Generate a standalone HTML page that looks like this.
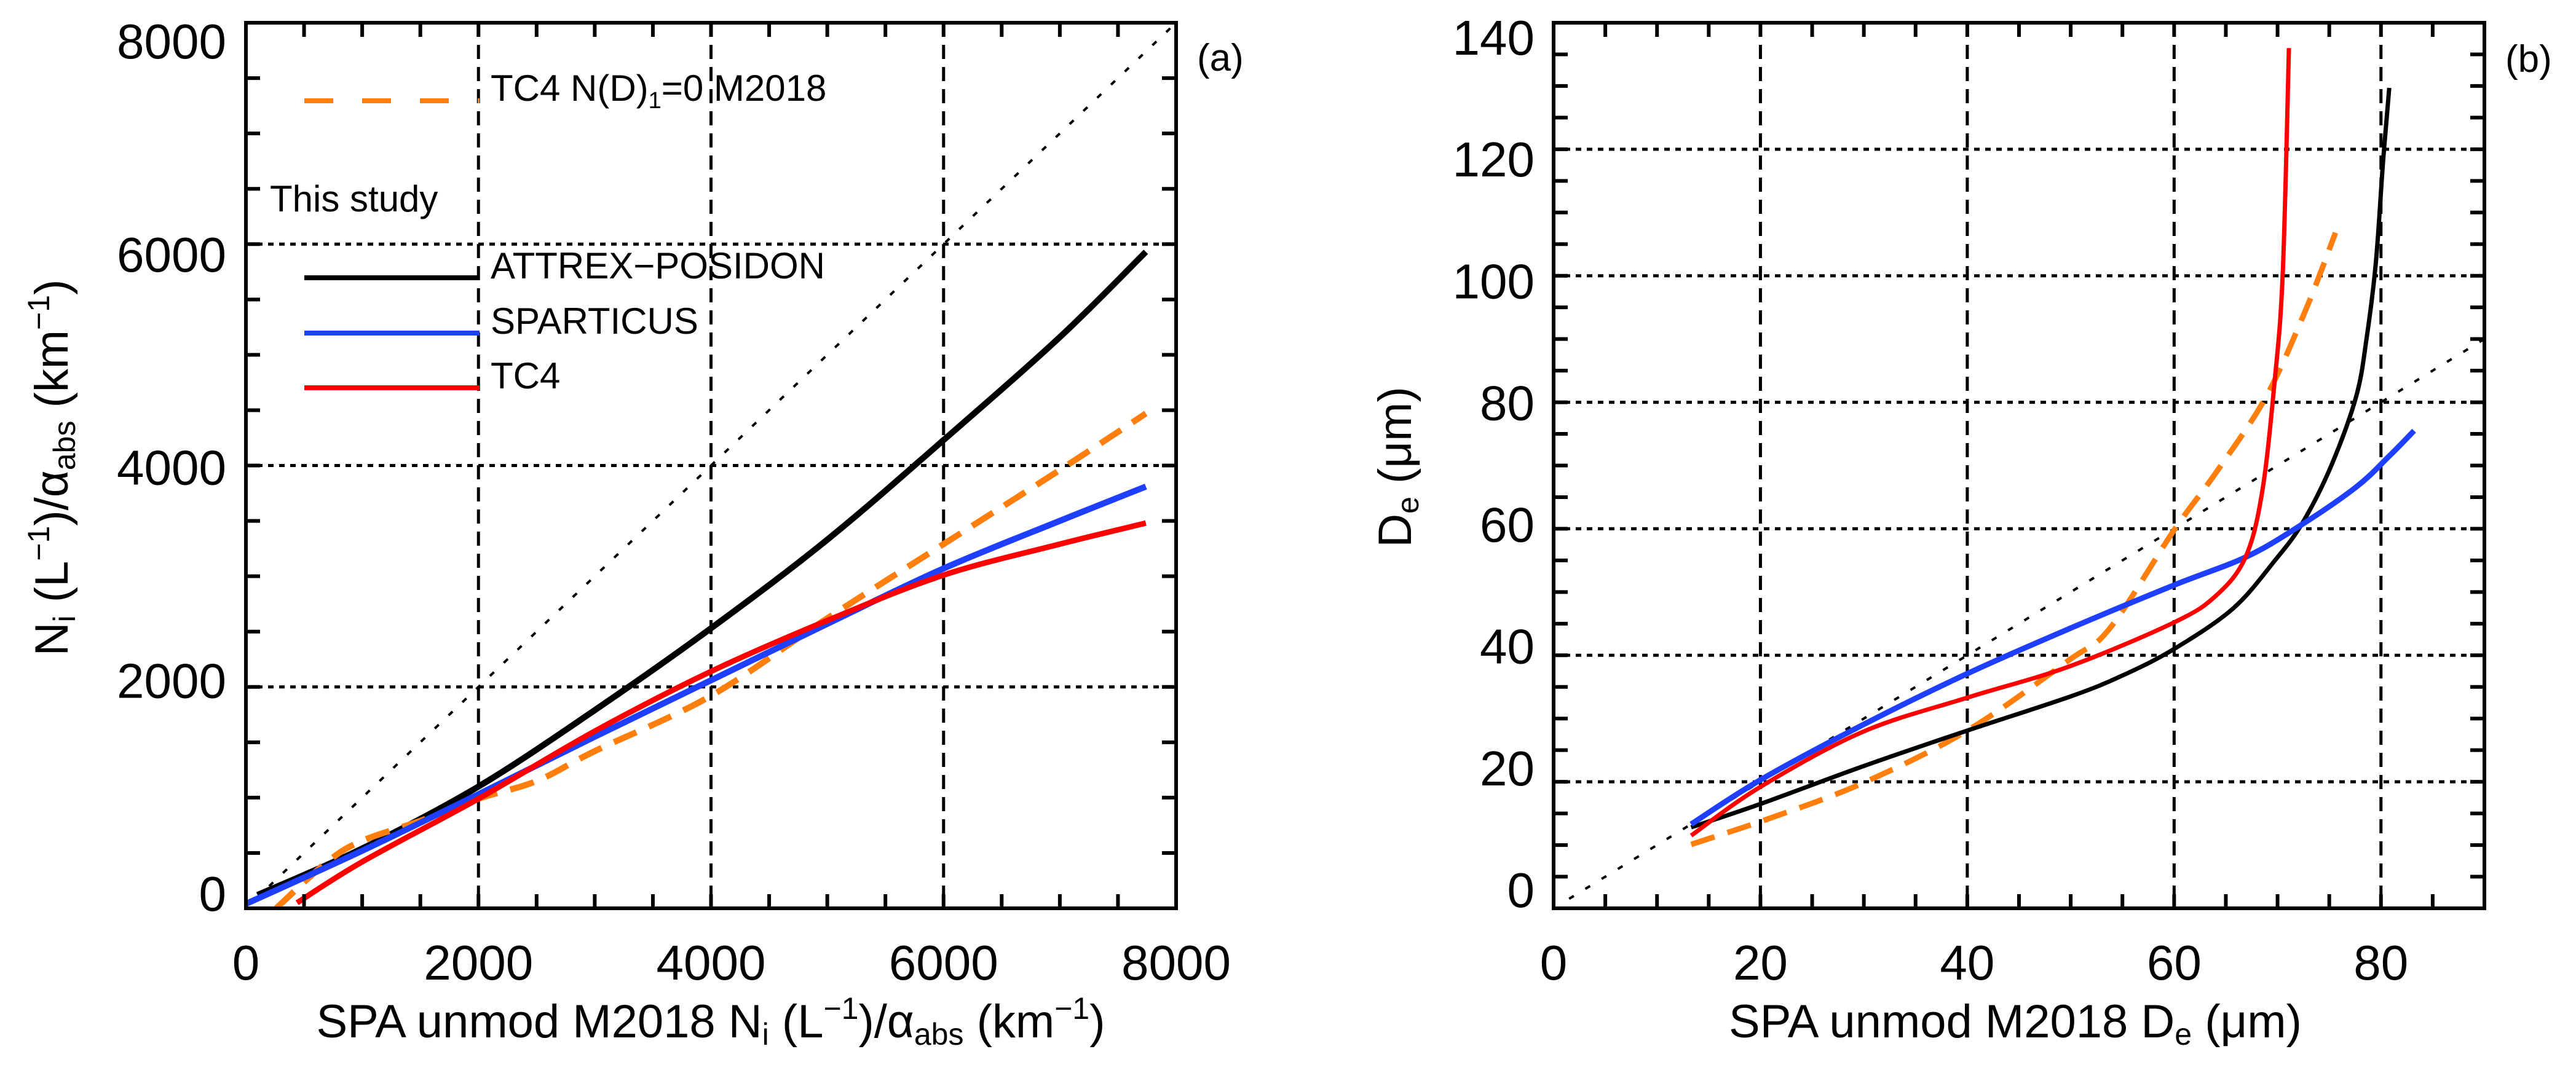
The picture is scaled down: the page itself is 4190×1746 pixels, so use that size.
<!DOCTYPE html>
<html><head><meta charset="utf-8">
<style>
html,body{margin:0;padding:0;background:#fff;}
svg{display:block;font-family:"Liberation Sans",sans-serif;}
</style></head>
<body>
<svg id="chart" width="4190" height="1746" viewBox="0 0 4190 1746" xmlns="http://www.w3.org/2000/svg">
<rect width="4190" height="1746" fill="#fff"/>
<g id="pa"></g>
<g id="pb"></g>
</svg>
<script>
// ---------- Panel (a) data ----------
const aBlackX=[100,1000,2000,3000,4000,5000,6000,7000,7740];
const aBlackY=[120,540,1100,1790,2530,3330,4230,5160,5930];
const aBlueX=[0,1000,2000,3000,4000,5000,6000,7000,7740];
const aBlueY=[40,520,1030,1550,2060,2570,3070,3500,3810];
const aRedX=[440,1000,2000,3000,4000,5000,6000,7000,7740];
const aRedY=[50,420,990,1600,2140,2600,3010,3290,3480];
const aOrangeX=[260,700,1000,1500,2000,2500,3000,4000,5000,6000,7000,7740];
const aOrangeY=[0,420,610,790,990,1150,1420,1920,2620,3290,3960,4470];
const aTicks=[0,2000,4000,6000,8000];
const aGrid=[2000,4000,6000];
// ---------- Panel (b) data ----------
const bBlackX=[13.3,20,30,40,50,55,60,65.7,69.7,72.4,75.2,77.6,78.6,79.5,80.2,80.8];
const bBlackY=[12.8,16.5,22.5,28.1,33.5,36.8,41,47.4,54.9,60.9,70,80.9,90,102,118,129.7];
const bRedX=[13.3,20,29.9,40,49.8,60,64.1,66.9,68.5,69.7,70.5,71.1];
const bRedY=[11.5,19.2,27.9,33.3,38.2,45.2,49.5,55.5,65.7,83,100.3,136];
const bBlueX=[13.3,20,29.9,40,50,60,66.9,72,77.6,80.8,83.2];
const bBlueY=[13.3,20.3,29,37.1,44.3,51.1,55.5,60.3,66.6,71.5,75.5];
const bOrangeX=[13.3,21.2,29.9,40,49.8,53.8,60,64.1,68.9,72.8,75.6];
const bOrangeY=[10.1,14.4,19.8,28.1,39.2,44.3,59.8,69,80.9,94.9,106.8];
const bXTicks=[0,20,40,60,80];
const bYTicks=[0,20,40,60,80,100,120,140];
const bXGrid=[20,40,60,80];
const bYGrid=[20,40,60,80,100,120];

const NS="http://www.w3.org/2000/svg";
function mk(parent,tag,attrs){const e=document.createElementNS(NS,tag);for(const k in attrs)e.setAttribute(k,attrs[k]);parent.appendChild(e);return e;}
function smooth(pts){let d="M"+pts[0][0]+","+pts[0][1];
 for(let i=0;i<pts.length-1;i++){const p0=pts[i-1]||pts[i],p1=pts[i],p2=pts[i+1],p3=pts[i+2]||p2;
  const c1=[p1[0]+(p2[0]-p0[0])/6,p1[1]+(p2[1]-p0[1])/6],c2=[p2[0]-(p3[0]-p1[0])/6,p2[1]-(p3[1]-p1[1])/6];
  d+=" C"+c1[0]+","+c1[1]+" "+c2[0]+","+c2[1]+" "+p2[0]+","+p2[1];}return d;}

function panel(g,o){
 const X=v=>o.x0+(v-o.xmin)/(o.xmax-o.xmin)*(o.x1-o.x0);
 const Y=v=>o.y0-(v-o.ymin)/(o.ymax-o.ymin)*(o.y0-o.y1);
 o.xGrid.forEach(v=>{const l=mk(g,"line",{x1:X(v),x2:X(v),y1:o.y1,y2:o.y0,stroke:"#000","stroke-width":5,"stroke-dasharray":"23 13"});
  
  });
 o.yGrid.forEach(v=>{const l=mk(g,"line",{x1:o.x0,x2:o.x1,y1:Y(v),y2:Y(v),stroke:"#000","stroke-width":5,"stroke-dasharray":"9 9"});
  
  });
 const one=mk(g,"line",{x1:X(o.oneFrom),y1:Y(o.oneFrom),x2:X(o.oneTo),y2:Y(o.oneTo),stroke:"#000","stroke-width":4,"stroke-dasharray":"9 22"});
 
 
 o.series.forEach(s=>{const pts=s.x.map((v,i)=>[X(v),Y(s.y[i])]);
  const p=mk(g,"path",{d:smooth(pts),fill:"none",stroke:s.c,"stroke-width":s.w,"stroke-linecap":"butt"});
  if(s.dash)p.setAttribute("stroke-dasharray",s.dash);
  
  });
 for(let v=o.xmin;v<=o.xmax+1e-9;v+=o.xMinor){[[o.y0,o.y0-23],[o.y1,o.y1+23]].forEach(a=>{const t=mk(g,"line",{x1:X(v),x2:X(v),y1:a[0],y2:a[1],stroke:"#000","stroke-width":6});
  
  });}
 for(let v=o.ymin;v<=o.ymax+1e-9;v+=o.yMinor){[[o.x0,o.x0+23],[o.x1,o.x1-23]].forEach(a=>{const t=mk(g,"line",{x1:a[0],x2:a[1],y1:Y(v),y2:Y(v),stroke:"#000","stroke-width":6});
  
  });}
 const fr=mk(g,"rect",{x:o.x0,y:o.y1,width:o.x1-o.x0,height:o.y0-o.y1,fill:"none",stroke:"#000","stroke-width":6});
 
 
 o.xTicks.forEach(v=>{const t=mk(g,"text",{x:X(v),y:1594,"font-size":80,"text-anchor":"middle"});t.textContent=String(v);
  
  });
 o.yTicks.forEach(v=>{const yy=Y(v);const t=mk(g,"text",{x:o.labRight,y:o.bTop+(yy-o.y1)*(o.bBot-o.bTop)/(o.y0-o.y1),"font-size":80,"text-anchor":"end"});t.textContent=String(v);
  
  });
}

const pa=document.getElementById("pa"), pb=document.getElementById("pb");
panel(pa,{x0:400,x1:1913,y0:1478,y1:37,xmin:0,xmax:8000,ymin:0,ymax:8000,xMinor:500,yMinor:500,
 xGrid:aGrid,yGrid:aGrid,xTicks:aTicks,yTicks:aTicks,oneFrom:200,oneTo:8000,labRight:368,bTop:95,bBot:1482,
 series:[{x:aBlackX,y:aBlackY,c:"#000",w:10,name:"attrex-posidon-curve"},
  {x:aOrangeX,y:aOrangeY,c:"#ff7f0e",w:10,dash:"40 22",name:"tc4-m2018-curve"},
  {x:aBlueX,y:aBlueY,c:"#1f3fff",w:10,name:"sparticus-curve"},
  {x:aRedX,y:aRedY,c:"#ff0000",w:9,name:"tc4-curve"}]});
panel(pb,{x0:2527,x1:4041,y0:1478,y1:37,xmin:0,xmax:90,ymin:0,ymax:140,xMinor:5,yMinor:5,
 xGrid:bXGrid,yGrid:bYGrid,xTicks:bXTicks,yTicks:bYTicks,oneFrom:1.5,oneTo:90,labRight:2496,bTop:89,bBot:1476,
 series:[{x:bOrangeX,y:bOrangeY,c:"#ff7f0e",w:9,dash:"40 22",name:"tc4-m2018-curve"},
  {x:bBlackX,y:bBlackY,c:"#000",w:7,name:"attrex-posidon-curve"},
  {x:bBlueX,y:bBlueY,c:"#1f3fff",w:9,name:"sparticus-curve"},
  {x:bRedX,y:bRedY,c:"#ff0000",w:7,name:"tc4-curve"}]});
</script>
<svg width="4190" height="1746" style="position:absolute;left:0;top:0" xmlns="http://www.w3.org/2000/svg" font-family="Liberation Sans, sans-serif">
 <g>
  <line x1="495" y1="164" x2="780" y2="164" stroke="#ff7f0e" stroke-width="8" stroke-dasharray="47 47"/>
  <text x="798" y="164" font-size="60">TC4 N(D)<tspan font-size="38" dy="12">1</tspan><tspan dy="-12">=0 M2018</tspan></text>
  <text x="439" y="344" font-size="60">This study</text>
  <line x1="495" y1="452" x2="780" y2="452" stroke="#000" stroke-width="8"/>
  <text x="798" y="453" font-size="60">ATTREX−POSIDON</text>
  <line x1="495" y1="542" x2="780" y2="542" stroke="#1f3fff" stroke-width="8"/>
  <text x="798" y="543" font-size="60">SPARTICUS</text>
  <line x1="495" y1="631" x2="780" y2="631" stroke="#ff0000" stroke-width="8"/>
  <text x="798" y="632" font-size="60">TC4</text>
 </g>
 <text x="1947" y="115" font-size="62">(a)</text>
 <text x="4075" y="117" font-size="62">(b)</text>
 <text x="1156" y="1688" font-size="76" text-anchor="middle">SPA unmod M2018 N<tspan font-size="50" dy="12">i</tspan><tspan dy="-12"> (L</tspan><tspan font-size="50" dy="-30">−1</tspan><tspan dy="30">)/α</tspan><tspan font-size="50" dy="12">abs</tspan><tspan dy="-12"> (km</tspan><tspan font-size="50" dy="-30">−1</tspan><tspan dy="30">)</tspan></text>
 <text x="3278" y="1688" font-size="76" text-anchor="middle">SPA unmod M2018 D<tspan font-size="50" dy="12">e</tspan><tspan dy="-12"> (μm)</tspan></text>
 <text transform="translate(110,761) rotate(-90)" font-size="76" text-anchor="middle">N<tspan font-size="50" dy="12">i</tspan><tspan dy="-12"> (L</tspan><tspan font-size="50" dy="-30">−1</tspan><tspan dy="30">)/α</tspan><tspan font-size="50" dy="12">abs</tspan><tspan dy="-12"> (km</tspan><tspan font-size="50" dy="-30">−1</tspan><tspan dy="30">)</tspan></text>
 <text transform="translate(2295,760) rotate(-90)" font-size="76" text-anchor="middle">D<tspan font-size="50" dy="12">e</tspan><tspan dy="-12"> (μm)</tspan></text>
</svg>
</body></html>
